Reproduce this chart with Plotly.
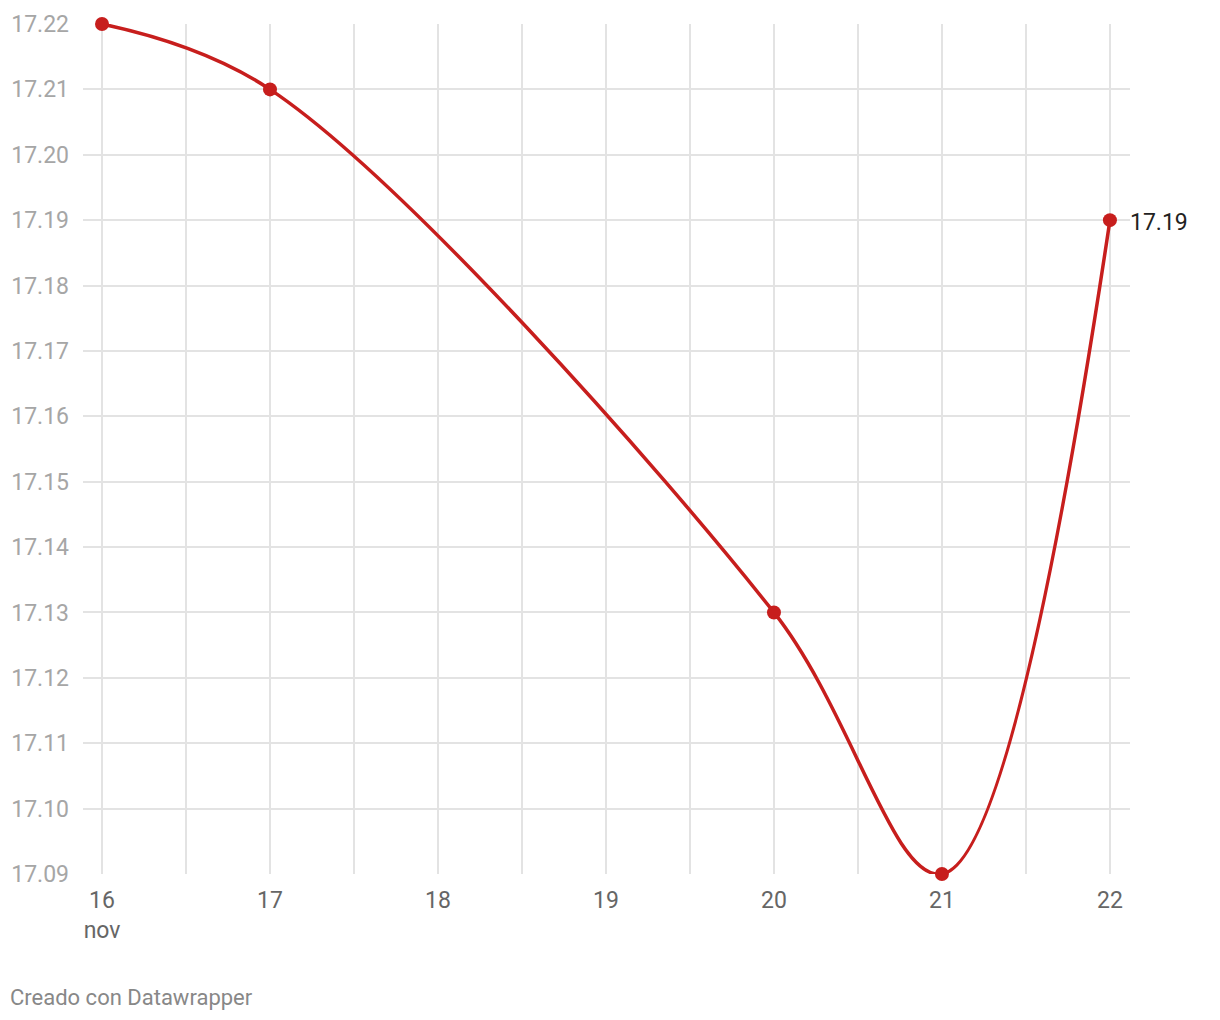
import plotly.graph_objects as go

dates = ["2023-11-16", "2023-11-17", "2023-11-20", "2023-11-21", "2023-11-22"]
values = [17.22, 17.21, 17.13, 17.09, 17.19]
tick_dates = ["2023-11-16", "2023-11-17", "2023-11-18", "2023-11-19",
              "2023-11-20", "2023-11-21", "2023-11-22"]
tick_labels = ["16<br>nov", "17", "18", "19", "20", "21", "22"]
y_ticks = [17.09, 17.10, 17.11, 17.12, 17.13, 17.14, 17.15, 17.16,
           17.17, 17.18, 17.19, 17.20, 17.21, 17.22]

RED = "#c71e1d"

fig = go.Figure()
fig.add_trace(go.Scatter(
    x=dates, y=values, mode="lines",
    line=dict(color=RED, width=3.5, shape="spline", smoothing=1.0),
    cliponaxis=False, hoverinfo="skip", showlegend=False))
fig.add_trace(go.Scatter(
    x=dates, y=values, mode="markers",
    marker=dict(color=RED, size=14),
    cliponaxis=False, showlegend=False))

fig.add_annotation(x=dates[-1], y=values[-1], text=f"{values[-1]:.2f}",
                   showarrow=False, xanchor="left", yanchor="middle",
                   xshift=18, yshift=-2, font=dict(size=23, color="#222222"))
fig.add_annotation(xref="paper", yref="paper", text="Creado con Datawrapper",
                   showarrow=False, xanchor="left", yanchor="middle",
                   x=-75/1047, y=-123/850,
                   font=dict(size=22, color="#888888"))

fig.update_layout(
    width=1212, height=1012,
    margin=dict(l=75, r=90, t=16, b=146, autoexpand=False),
    plot_bgcolor="white", paper_bgcolor="white",
    font=dict(family="Roboto", size=23, color="#666666"),
    xaxis=dict(
        type="date", automargin=False,
        range=["2023-11-15 21:17", "2023-11-22 02:52"],
        tickmode="array", tickvals=tick_dates, ticktext=tick_labels,
        showgrid=True, gridcolor="#e3e3e3", gridwidth=2,
        minor=dict(dtick=43200000, showgrid=True, gridcolor="#e3e3e3", gridwidth=2,
                   tick0="2023-11-16"),
        zeroline=False, showline=False, ticks="",
        tickfont=dict(size=23, color="#666666"),
        ticklabelstandoff=10,
    ),
    yaxis=dict(
        automargin=False,
        range=[17.09, 17.22],
        tickmode="array", tickvals=y_ticks,
        tickformat=".2f",
        showgrid=True, gridcolor="#e3e3e3", gridwidth=2,
        zeroline=False, showline=False, ticks="",
        tickfont=dict(size=23, color="#a6a6a6"),
        ticklabelstandoff=13,
    ),
)

fig.write_html("out.html")
